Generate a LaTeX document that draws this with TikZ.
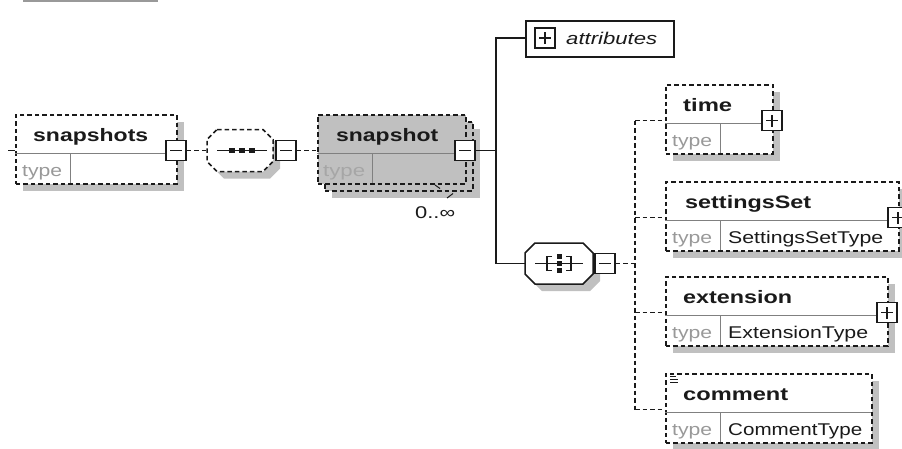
\documentclass[tikz,border=0pt]{standalone}
\usepackage{fontspec}
\setmainfont{Liberation Sans}
\usetikzlibrary{shadows}
\definecolor{ink}{HTML}{1A1A1A}
\definecolor{shgray}{HTML}{C0C0C0}
\definecolor{boxgray}{HTML}{C0C0C0}
\definecolor{sepgray}{HTML}{808080}
\definecolor{typegray}{HTML}{999999}
\definecolor{typegraylt}{HTML}{A6A6A6}
\newcommand\fitw[2]{\resizebox{#1pt}{\height}{#2}}
\tikzset{
  elbox/.style={rectangle, draw=ink, dash pattern=on 4.5pt off 3pt, line width=1.5pt, fill=white, inner sep=0, anchor=north west, minimum height=69},
  shad/.style={drop shadow={shadow xshift=7pt, shadow yshift=-7pt, fill=shgray, opacity=1}},
  pm/.style={rectangle, draw=ink, solid, line width=1.5pt, fill=white, minimum size=20, inner sep=0},
  conn/.style={draw=ink, line width=1.5pt},
  dconn/.style={conn, dash pattern=on 4.5pt off 3pt},
  sepline/.style={draw=sepgray, line width=1pt},
  btext/.style={inner sep=0, anchor=base west, font=\fontsize{18}{20}\selectfont\bfseries, text=ink},
  rtext/.style={inner sep=0, anchor=base west, font=\fontsize{17}{19}\selectfont, text=ink},
  ttext/.style={rtext, text=typegray},
  anchorbox/.style={rectangle, inner sep=0},
  icon/.style={draw=ink, line width=1.5pt},
}
% octagon outline: options, L, T, R, B
\newcommand\octo[5]{\path[#1] (#2+10,#3) -- (#4-10,#3) -- (#4,#3+10) -- (#4,#5-10) -- (#4-10,#5) -- (#2+10,#5) -- (#2,#5-10) -- (#2,#3+10) -- cycle;}
\newcommand\mbar[1]{\draw[icon] ([xshift=-6pt]#1.center) -- ([xshift=6pt]#1.center);}
\newcommand\pbar[1]{\mbar{#1}\draw[icon] ([yshift=-6pt]#1.center) -- ([yshift=6pt]#1.center);}
\begin{document}
\begin{tikzpicture}[x=1pt,y=-1pt]
\useasboundingbox[fill=white] (0,0) rectangle (902,448);
\draw[draw=sepgray!80, line width=1.5pt] (23,0.75) -- (158,0.75);

% ---- snapshots
\node[elbox, shad, minimum width=161] (snaps) at (15,114) {};
\draw[sepline] (15,153) -- (176,153);
\draw[sepline] (70,153) -- (70,183);
\node[btext] (snapsl) at (33,141) {\fitw{115}{snapshots}};
\node[ttext] (snapst) at (22,176.5) {\fitw{40}{type}};
\node[pm] (snapsm) at (176,150.5) {};
\mbar{snapsm}
\coordinate (stub) at (8,150.5);
\draw[conn, line width=1.3pt] (stub) -- (stub -| snaps.west);

% ---- sequence
\octo{fill=shgray, shift={(7,7)}}{207}{129.5}{273}{171.5}
\octo{draw=ink, fill=white, line width=1.5pt, dash pattern=on 4.5pt off 3pt}{207}{129.5}{273}{171.5}
\node[anchorbox, minimum width=66, minimum height=42] (seq) at (240,150.5) {};
\draw[icon] ([xshift=-23pt]seq.center) -- ([xshift=27pt]seq.center);
\foreach \dx in {-8,2,12} {\fill[ink] ([xshift=\dx pt]seq.center) ++(-2.7,-2.7) rectangle ++(5.4,5.4);}
\node[pm] (seqm) at (286,150.5) {};
\mbar{seqm}
\draw[dconn] (snapsm.east) -- (snapsm.east -| seq.west);

% ---- snapshot (repeated)
\node[elbox, shad, fill=boxgray, minimum width=148] (snapb) at (324,121) {};
\node[elbox, fill=boxgray, minimum width=148] (snap) at (317,114) {};
\draw[sepline] (317,153) -- (465,153);
\draw[sepline] (372,153) -- (372,183);
\node[btext] (snapl) at (336,141) {\fitw{102}{snapshot}};
\node[rtext, text=typegraylt] (snapt) at (323,176.5) {\fitw{42}{type}};
\node[pm] (snapm) at (465,150.5) {};
\mbar{snapm}
\draw[dconn] (seqm.east) -- (seqm.east -| snap.west);
\draw[ink, line width=1pt] (435,185) -- (440,188.5);
\draw[ink, line width=1pt] (447,198) -- (453,193.5);
\node[rtext] (occ) at (415,218) {\fitw{40}{0..∞}};

% ---- attributes
\node[rectangle, draw=ink, line width=1.5pt, fill=white, minimum width=148, minimum height=36, inner sep=0, anchor=north west] (attr) at (525,20) {};
\node[pm] (attrp) at (545,38) {};
\pbar{attrp}
\node[rtext, font=\fontsize{17}{19}\selectfont\itshape] (attrl) at (566,44.5) {\fitw{91}{attributes}};

% ---- choice
\octo{fill=shgray, shift={(7,7)}}{525}{243}{593}{284}
\octo{draw=ink, fill=white, line width=1.5pt}{525}{243}{593}{284}
\node[anchorbox, minimum width=68, minimum height=41] (ch) at (559,263.5) {};
\draw[icon] ([xshift=-24pt]ch.center) -- ([xshift=24pt]ch.center);
\draw[icon] ([xshift=-7pt,yshift=7pt]ch.center) -- ++(-5,0) -- ++(0,14) -- ++(5,0);
\draw[icon] ([xshift=7pt,yshift=7pt]ch.center) -- ++(5,0) -- ++(0,14) -- ++(-5,0);
\foreach \dy in {-7,0,7} {\fill[ink] ([yshift=\dy pt]ch.center) ++(-2.5,-2.5) rectangle ++(5,5);}
\node[pm] (chm) at (605,263.5) {};
\mbar{chm}

% ---- solid tree connectors
\coordinate (vt) at (496,38);
\coordinate (vb) at (496,263.5);
\draw[conn] (snapm.east) -- (snapm.east -| vt);
\draw[conn] (attr.west |- vt) -- (vt) -- (vb) -- (ch.west);

% ---- time
\node[elbox, shad, minimum width=107] (time) at (665,84) {};
\draw[sepline] (665,123) -- (772,123);
\draw[sepline] (720,123) -- (720,153);
\node[btext] (timel) at (683,111) {\fitw{49}{time}};
\node[ttext] (timet) at (672,146.5) {\fitw{40}{type}};
\node[pm] (timep) at (772,120.5) {};
\pbar{timep}

% ---- settingsSet
\node[elbox, shad, minimum width=233] (sset) at (665,181) {};
\draw[sepline] (665,220) -- (898,220);
\draw[sepline] (720,220) -- (720,250);
\node[btext] (ssetl) at (685,208) {\fitw{126}{settingsSet}};
\node[ttext] (ssett) at (672,243.5) {\fitw{40}{type}};
\node[rtext] (ssetty) at (728,243.5) {\fitw{155}{SettingsSetType}};
\node[pm] (ssetp) at (898,217.5) {};
\pbar{ssetp}

% ---- extension
\node[elbox, shad, minimum width=222] (ext) at (665,276) {};
\draw[sepline] (665,315) -- (887,315);
\draw[sepline] (720,315) -- (720,345);
\node[btext] (extl) at (683,303) {\fitw{109}{extension}};
\node[ttext] (extt) at (672,338.5) {\fitw{40}{type}};
\node[rtext] (extty) at (728,338.5) {\fitw{140}{ExtensionType}};
\node[pm] (extp) at (887,312.5) {};
\pbar{extp}

% ---- comment
\node[elbox, shad, minimum width=206] (com) at (665,373) {};
\draw[sepline] (665,412) -- (871,412);
\draw[sepline] (720,412) -- (720,442);
\node[btext] (coml) at (683,400) {\fitw{105}{comment}};
\node[ttext] (comt) at (672,435.5) {\fitw{40}{type}};
\node[rtext] (comty) at (728,435.5) {\fitw{134}{CommentType}};
\draw[ink, line width=1.1pt] (670,376.5) -- (676,376.5) (670,379.5) -- (678,379.5) (670,382.5) -- (678,382.5);
\coordinate (comc) at (665,409.5);

% ---- dashed choice connectors
\coordinate (dtop) at (635,120.5);
\coordinate (dbot) at (635,409.5);
\draw[dconn] (chm.east) -- (chm.east -| dtop);
\draw[dconn] (dtop) -- (dbot);
\draw[dconn] (dtop) -- (dtop -| time.west);
\draw[dconn] (dtop |- ssetp) -- (ssetp -| sset.west);
\draw[dconn] (dtop |- extp) -- (extp -| ext.west);
\draw[dconn] (dbot) -- (comc);
\end{tikzpicture}
\end{document}
